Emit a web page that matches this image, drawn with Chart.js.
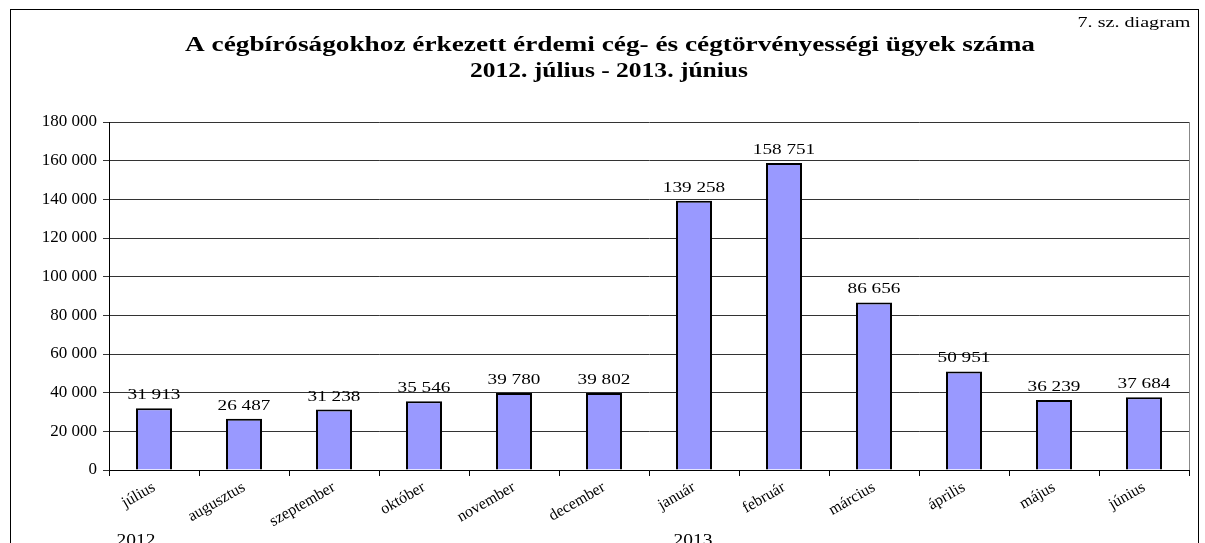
<!DOCTYPE html>
<html lang="hu">
<head>
    <meta charset="UTF-8">
    <title>Cégbíróságok – 7. sz. diagram</title>
    <script src="https://cdn.jsdelivr.net/npm/chart.js"></script>
    <style>
        html, body { margin: 0; padding: 0; background: #fff; }
        #wrap { width: 1205px; height: 543px; }
    </style>
</head>
<body>
<div id="wrap"><canvas id="myChart"></canvas></div>

<script>
    // Adatok
    const honapok = ['július', 'augusztus', 'szeptember', 'október', 'november', 'december',
                     'január', 'február', 'március', 'április', 'május', 'június'];
    const ugyek = [31913, 26487, 31238, 35546, 39780, 39802, 139258, 158751, 86656, 50951, 36239, 37684];
    const evek = ['2012', '2013'];
    const evKezdet = [0, 6]; // melyik hónapnál kezdődik az év
    const yMin = 0, yMax = 180000, yLepes = 20000;

    const cim1 = 'A cégbíróságokhoz érkezett érdemi cég- és cégtörvényességi ügyek száma';
    const cim2 = '2012. július - 2013. június';
    const sarok = '7. sz. diagram';

    const SERIF = '"Liberation Serif", "Times New Roman", serif';

    // ezres tagolás szóközzel
    function ezres(v) {
        return String(v).replace(/\B(?=(\d{3})+(?!\d))/g, ' ');
    }

    // szöveg vízszintes nyújtással: szel = célszélesség, vagy ha < 5, akkor arány
    function nyujtott(ctx, text, cx, y, font, szel) {
        ctx.save();
        ctx.font = font;
        const w = ctx.measureText(text).width;
        let s = 1;
        if (szel) s = szel < 5 ? szel : szel / w;
        ctx.translate(cx, y);
        ctx.scale(s, 1);
        ctx.textAlign = 'center';
        ctx.fillText(text, 0, 0);
        ctx.restore();
    }

    const keretPlugin = {
        id: 'keret',
        beforeDraw(chart) {
            const ctx = chart.ctx;
            ctx.save();
            ctx.fillStyle = '#fff';
            ctx.fillRect(0, 0, chart.width, chart.height);
            ctx.strokeStyle = '#000';
            ctx.lineWidth = 1;
            ctx.strokeRect(10.5, 9.5, 1188, 560);
            ctx.restore();
        },
        afterDraw(chart) {
            const ctx = chart.ctx;
            const a = chart.chartArea;
            const x = chart.scales.x;
            ctx.save();
            // jobb oldali keret
            ctx.strokeStyle = '#888';
            ctx.lineWidth = 1;
            ctx.beginPath();
            ctx.moveTo(Math.round(a.right) + 0.5, a.top);
            ctx.lineTo(Math.round(a.right) + 0.5, a.bottom);
            ctx.stroke();

            ctx.fillStyle = '#000';
            ctx.textBaseline = 'alphabetic';
            nyujtott(ctx, cim1, 610, 51, 'bold 20px ' + SERIF, 850);
            nyujtott(ctx, cim2, 609, 77, 'bold 20px ' + SERIF, 278);
            nyujtott(ctx, sarok, 1134, 27, '14px ' + SERIF, 113);

            // értékcímkék
            const meta = chart.getDatasetMeta(0);
            meta.data.forEach((bar, i) => {
                nyujtott(ctx, ezres(ugyek[i]), bar.x, bar.y - 9, '15px ' + SERIF, 1.28);
            });

            // évek
            evek.forEach((ev, i) => {
                const px = x.getPixelForValue(evKezdet[i]);
                const dx = i === 0 ? -18 : -1;
                nyujtott(ctx, ev, px + dx, 545, '17px ' + SERIF, 39);
            });
            ctx.restore();
        }
    };

    const ctx = document.getElementById('myChart').getContext('2d');
    new Chart(ctx, {
        type: 'bar',
        data: {
            labels: honapok,
            datasets: [{
                data: ugyek,
                backgroundColor: '#9999FF',
                borderColor: '#000',
                borderWidth: 2,
                barPercentage: 0.4,
                categoryPercentage: 1.0
            }]
        },
        options: {
            responsive: true,
            maintainAspectRatio: false,
            animation: false,
            layout: {
                padding: { top: 122, right: 16, bottom: 0, left: 0 }
            },
            plugins: {
                legend: { display: false },
                tooltip: { enabled: false },
                title: { display: false }
            },
            scales: {
                x: {
                    grid: {
                        offset: true,
                        drawOnChartArea: false,
                        tickLength: 6,
                        color: '#000'
                    },
                    border: { color: '#000', width: 1 },
                    ticks: {
                        minRotation: 30,
                        maxRotation: 30,
                        padding: 2,
                        color: '#000',
                        font: { family: SERIF, size: 16 }
                    },
                    afterFit(scale) { scale.height = 73; }
                },
                y: {
                    min: yMin,
                    max: yMax,
                    ticks: {
                        stepSize: yLepes,
                        color: '#000',
                        padding: 6,
                        font: { family: SERIF, size: 17 },
                        callback: v => ezres(v)
                    },
                    grid: {
                        color: '#333',
                        tickLength: 6,
                        lineWidth: 1
                    },
                    border: { color: '#000', width: 1 },
                    afterFit(scale) { scale.width = 109; }
                }
            }
        },
        plugins: [keretPlugin]
    });
</script>
</body>
</html>
